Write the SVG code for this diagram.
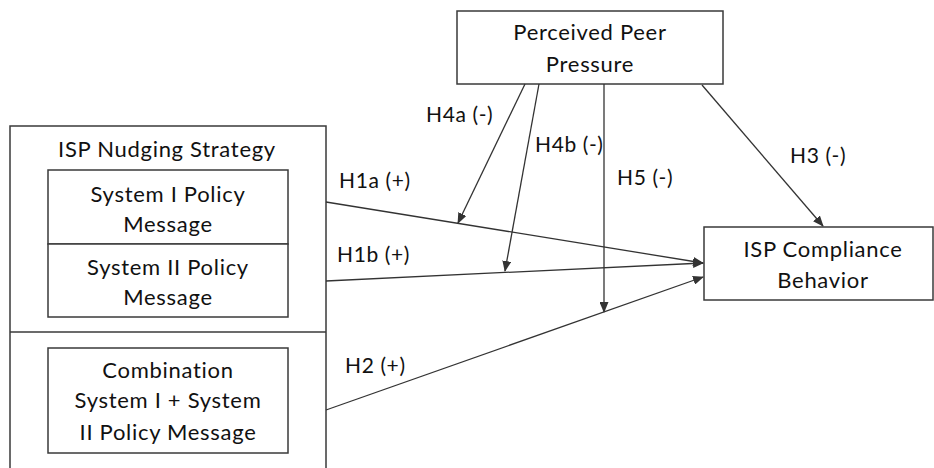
<svg xmlns="http://www.w3.org/2000/svg" width="934" height="468" viewBox="0 0 934 468">
<style>
.box{fill:#fff;stroke:#3a3a3a;stroke-width:1.5}
.t{font-family:Lato,"Open Sans","DejaVu Sans",sans-serif;font-size:22px;letter-spacing:0.7px;fill:#111;text-anchor:middle}
.l{font-family:Lato,"Open Sans","DejaVu Sans",sans-serif;font-size:21px;letter-spacing:0.6px;fill:#111}
.c{fill:none;stroke:#333;stroke-width:1.3}
</style>
<defs>
<marker id="ah" markerUnits="userSpaceOnUse" markerWidth="11" markerHeight="9" refX="10" refY="4.5" orient="auto">
<path d="M0,0 L11,4.5 L0,9 z" fill="#333"/>
</marker>
</defs>
<rect width="934" height="468" fill="#fff"/>
<g id="nudging">
<rect class="box" x="10" y="126" width="316" height="360"/>
<line x1="10" y1="332" x2="326" y2="332" stroke="#3a3a3a" stroke-width="1.5"/>
<text class="t" x="167" y="157">ISP Nudging Strategy</text>
</g>
<g id="system1">
<rect class="box" x="48" y="170" width="240" height="74"/>
<text class="t" x="168" y="202">System I Policy</text>
<text class="t" x="168" y="232">Message</text>
</g>
<g id="system2">
<rect class="box" x="48" y="244" width="240" height="73"/>
<text class="t" x="168" y="275">System II Policy</text>
<text class="t" x="168" y="305">Message</text>
</g>
<g id="combination">
<rect class="box" x="48" y="348" width="240" height="105"/>
<text class="t" x="168" y="378">Combination</text>
<text class="t" x="168" y="408">System I + System</text>
<text class="t" x="168" y="440">II Policy Message</text>
</g>
<g id="peer">
<rect class="box" x="457" y="11" width="266" height="73"/>
<text class="t" x="590" y="40">Perceived Peer</text>
<text class="t" x="590" y="72">Pressure</text>
</g>
<g id="compliance">
<rect class="box" x="704" y="227" width="229" height="73"/>
<text class="t" x="823" y="257">ISP Compliance</text>
<text class="t" x="823" y="288">Behavior</text>
</g>
<g id="connectors">
<line class="c" x1="326" y1="202" x2="703" y2="263" marker-end="url(#ah)"/>
<line class="c" x1="326" y1="281" x2="703" y2="263" marker-end="url(#ah)"/>
<line class="c" x1="326" y1="410" x2="703" y2="277" marker-end="url(#ah)"/>
<line class="c" x1="525" y1="84" x2="458" y2="223" marker-end="url(#ah)"/>
<line class="c" x1="539" y1="84" x2="505" y2="271" marker-end="url(#ah)"/>
<line class="c" x1="604" y1="84" x2="604" y2="312" marker-end="url(#ah)"/>
<line class="c" x1="702" y1="85" x2="823" y2="226" marker-end="url(#ah)"/>
</g>
<g id="labels">
<text class="l" x="426" y="122">H4a (-)</text>
<text class="l" x="535" y="152">H4b (-)</text>
<text class="l" x="617" y="185">H5 (-)</text>
<text class="l" x="339" y="188">H1a (+)</text>
<text class="l" x="337" y="262">H1b (+)</text>
<text class="l" x="345" y="373">H2 (+)</text>
<text class="l" x="790" y="163">H3 (-)</text>
</g>
</svg>
